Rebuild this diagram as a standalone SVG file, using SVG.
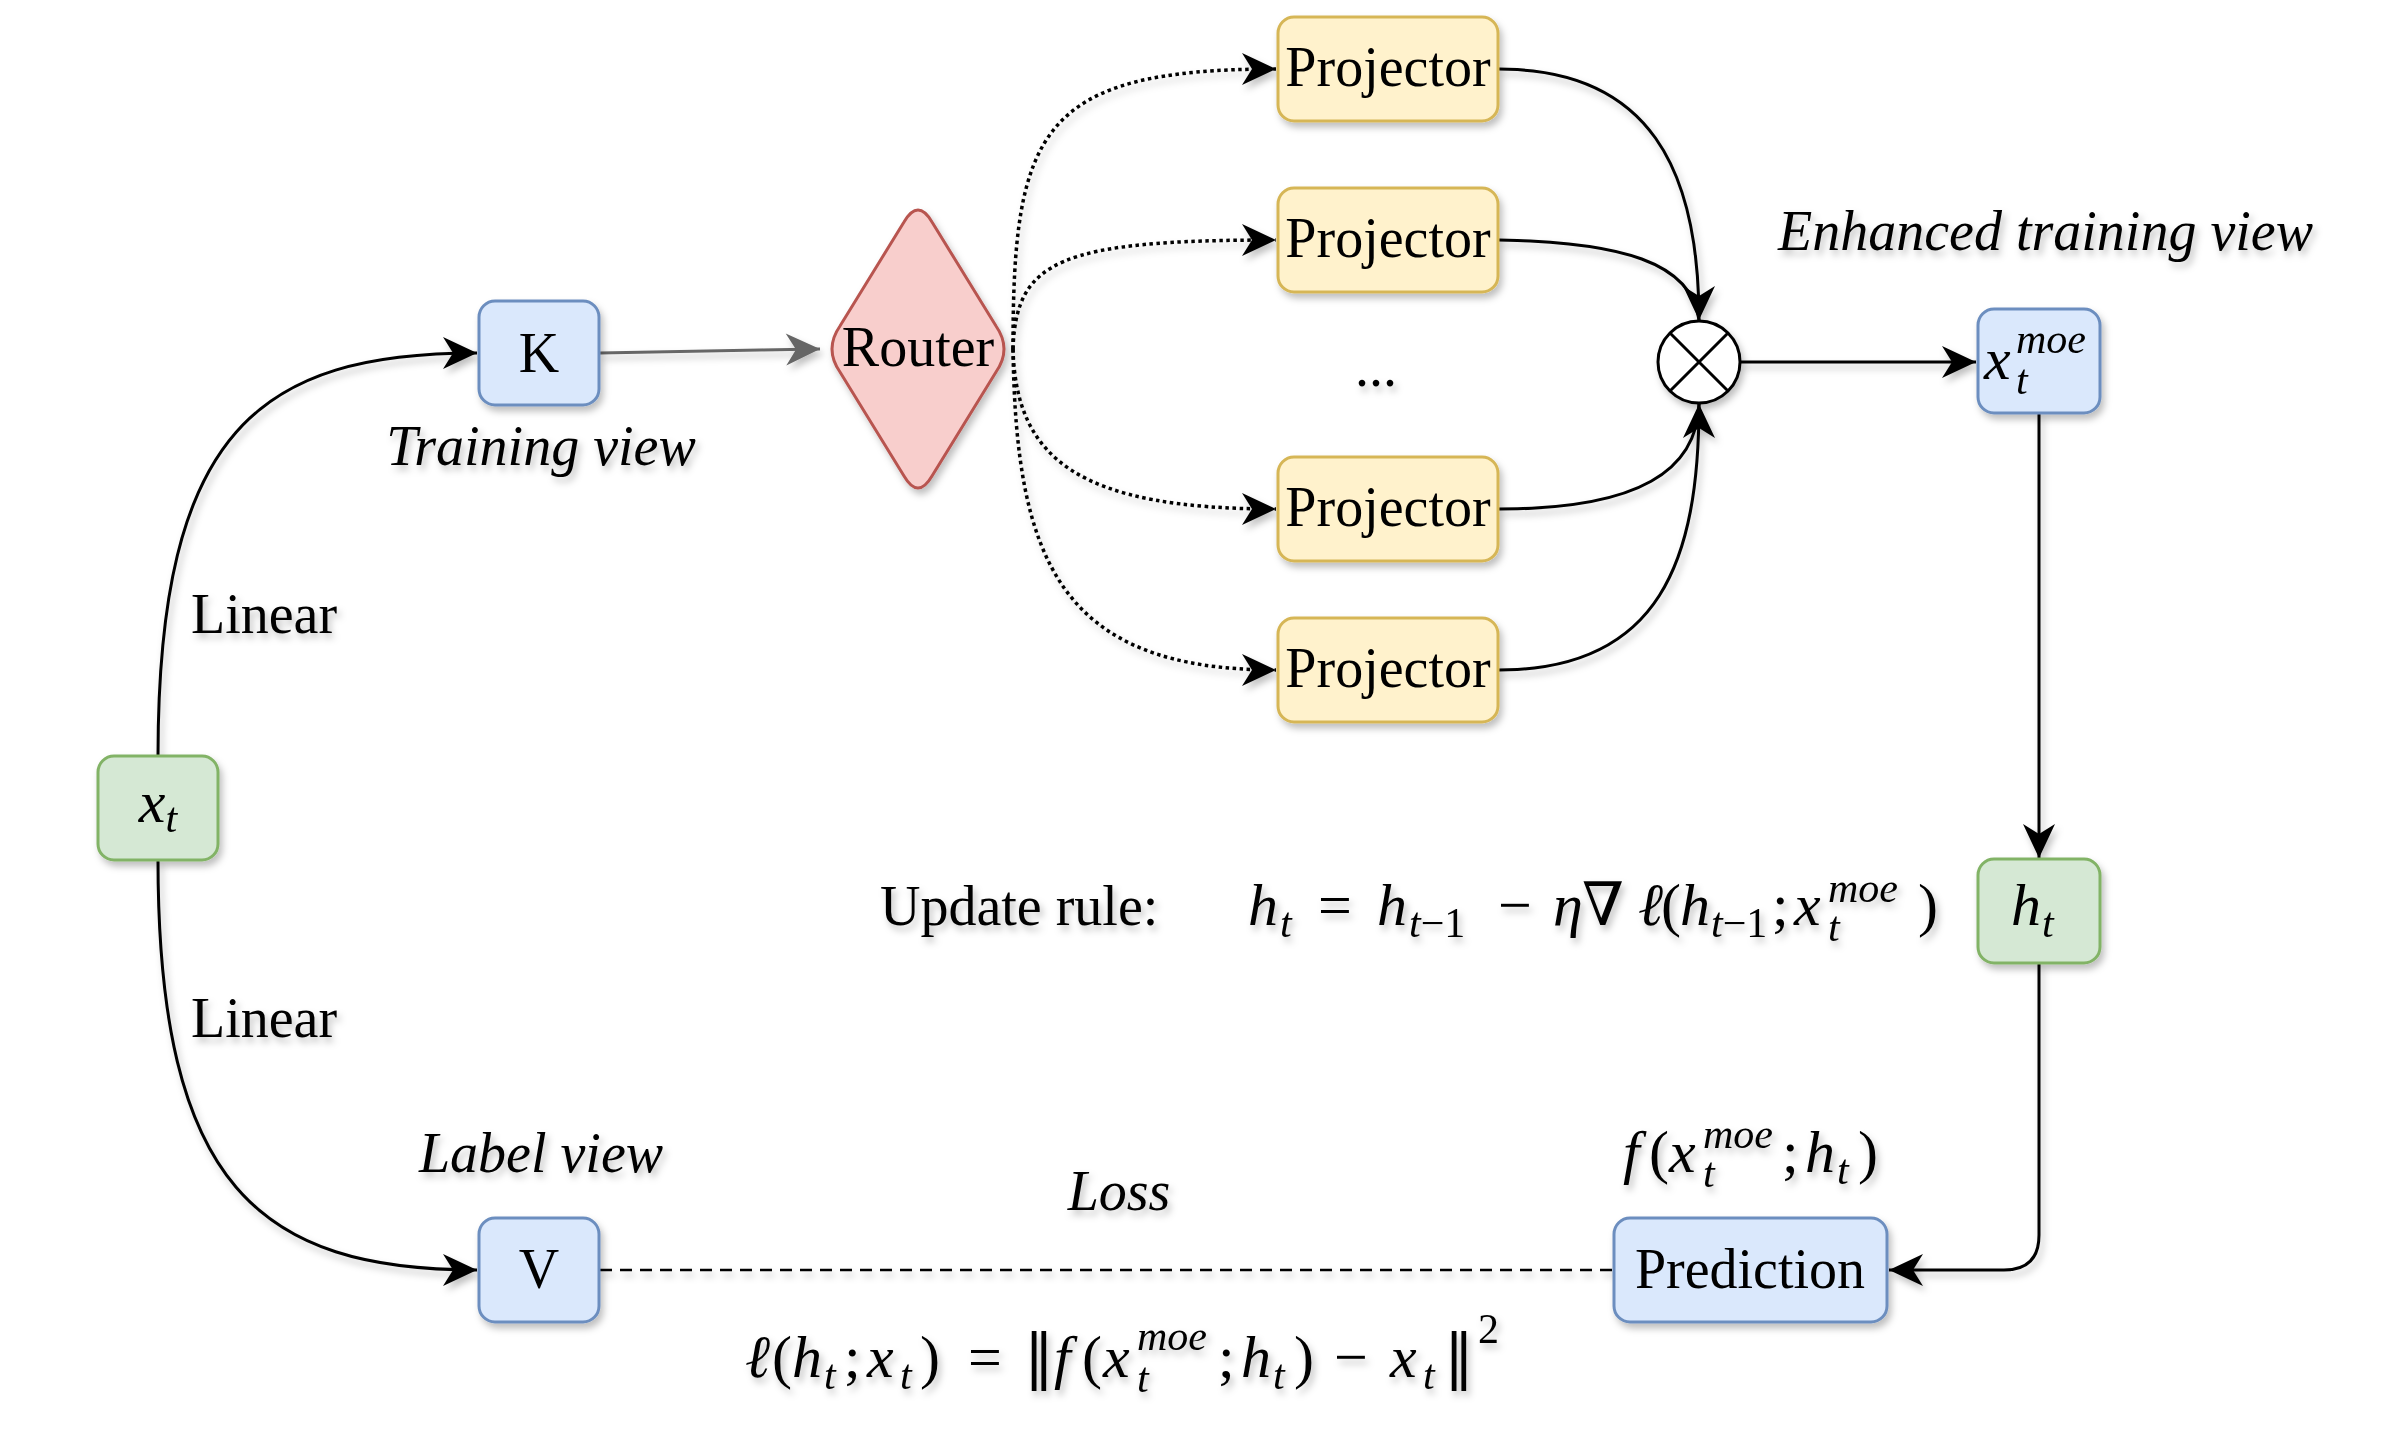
<svg xmlns="http://www.w3.org/2000/svg" width="2400" height="1448" viewBox="0 0 2400 1448">
<style>
.box{stroke-width:3}
.blue{fill:#dae8fc;stroke:#6c8ebf}
.green{fill:#d5e8d4;stroke:#82b366}
.yellow{fill:#fff2cc;stroke:#d6b656}
.red{fill:#f8cecc;stroke:#b85450}
.lbl{font-family:"Liberation Serif","DejaVu Serif","Times New Roman",serif;font-size:56px;fill:#000}
.m{font-size:60px}
.it{font-style:italic}
.s{font-size:42px}
.nrm{font-family:"DejaVu Serif",serif;font-size:60px}
.edge{fill:none;stroke:#000;stroke-width:3}
.dot{stroke-width:3.5;stroke-dasharray:3.5 3.5}
.dash{stroke-width:2.5;stroke-dasharray:12 8}
.sh{filter:url(#sh)}
</style>
<defs>
<filter id="sh" x="-20%" y="-20%" width="150%" height="150%">
<feDropShadow dx="3" dy="5" stdDeviation="3.5" flood-color="#000" flood-opacity="0.25"/>
</filter>
<marker id="arr" viewBox="-36 -18 38 36" refX="0" refY="0" markerWidth="38" markerHeight="36" markerUnits="userSpaceOnUse" orient="auto">
<path d="M0 0 L-34 -16 L-24 0 L-34 16 Z" fill="#000"/>
</marker>
<marker id="arrg" viewBox="-36 -18 38 36" refX="0" refY="0" markerWidth="38" markerHeight="36" markerUnits="userSpaceOnUse" orient="auto">
<path d="M0 0 L-34 -16 L-24 0 L-34 16 Z" fill="#666"/>
</marker>
</defs>
<rect width="2400" height="1448" fill="#fff"/>

<g id="connectors" class="sh">
<path class="edge" d="M158 756 C158 430 260 353 477 353" marker-end="url(#arr)"/>
<path class="edge" d="M158 860 C158 1186 260 1270 477 1270" marker-end="url(#arr)"/>
<path class="edge" d="M600 353 L820 349" style="stroke:#666" marker-end="url(#arrg)"/>
<path class="edge dot" d="M1013 349 C1013 130 1040 69 1276 69" marker-end="url(#arr)"/>
<path class="edge dot" d="M1013 349 C1016 260 1060 240 1276 240" marker-end="url(#arr)"/>
<path class="edge dot" d="M1013 349 C1016 460 1080 509 1276 509" marker-end="url(#arr)"/>
<path class="edge dot" d="M1013 349 C1016 560 1060 670 1276 670" marker-end="url(#arr)"/>
<path class="edge" d="M1499 69 C1650 69 1699 170 1699 320" marker-end="url(#arr)"/>
<path class="edge" d="M1499 240 C1620 242 1692 262 1699 320"/>
<path class="edge" d="M1499 509 C1640 509 1697 470 1699 404"/>
<path class="edge" d="M1499 670 C1660 670 1699 560 1699 404" marker-end="url(#arr)"/>
<path class="edge" d="M1740 362 L1976 362" marker-end="url(#arr)"/>
<path class="edge" d="M2039 413 L2039 858" marker-end="url(#arr)"/>
<path class="edge" d="M2039 963 L2039 1235 Q2039 1270 2004 1270 L1889 1270" marker-end="url(#arr)"/>
<path class="edge dash" d="M600 1270 L1614 1270"/>
</g>

<g id="node-xt" class="sh">
<rect class="box green" x="98" y="756" width="120" height="104" rx="16"/>
<text class="lbl m it" x="158" y="822" text-anchor="middle">x<tspan class="s" dy="10">t</tspan></text>
</g>

<g id="node-K" class="sh">
<rect class="box blue" x="479" y="301" width="120" height="104" rx="16"/>
<text class="lbl" x="539" y="372" text-anchor="middle">K</text>
</g>

<g id="node-V" class="sh">
<rect class="box blue" x="479" y="1218" width="120" height="104" rx="16"/>
<text class="lbl" x="539" y="1288" text-anchor="middle">V</text>
</g>

<g id="node-router" class="sh">
<path class="box red" d="M904 222 Q918 198 932 222 L996 326 Q1012 349 996 372 L932 476 Q918 500 904 476 L840 372 Q824 349 840 326 Z"/>
<text class="lbl" x="918" y="366" text-anchor="middle">Router</text>
</g>

<g id="node-proj1" class="sh">
<rect class="box yellow" x="1278" y="17" width="220" height="104" rx="16"/>
<text class="lbl" x="1388" y="86" text-anchor="middle">Projector</text>
</g>
<g id="node-proj2" class="sh">
<rect class="box yellow" x="1278" y="188" width="220" height="104" rx="16"/>
<text class="lbl" x="1388" y="257" text-anchor="middle">Projector</text>
</g>
<g id="node-proj3" class="sh">
<rect class="box yellow" x="1278" y="457" width="220" height="104" rx="16"/>
<text class="lbl" x="1388" y="526" text-anchor="middle">Projector</text>
</g>
<g id="node-proj4" class="sh">
<rect class="box yellow" x="1278" y="618" width="220" height="104" rx="16"/>
<text class="lbl" x="1388" y="687" text-anchor="middle">Projector</text>
</g>

<g id="ellipsis" class="sh">
<text class="lbl" x="1376" y="386" text-anchor="middle">...</text>
</g>

<g id="node-otimes" class="sh">
<circle cx="1699" cy="362" r="41" fill="#fff" stroke="#000" stroke-width="3"/>
<path d="M1670 333 L1728 391 M1728 333 L1670 391" stroke="#000" stroke-width="3"/>
</g>

<g id="node-xmoe" class="sh">
<rect class="box blue" x="1978" y="309" width="122" height="104" rx="16"/>
<text class="lbl m it"><tspan x="1984" y="379">x</tspan><tspan class="s" x="2016" y="394">t</tspan><tspan class="s" x="2016" y="353">moe</tspan></text>
</g>

<g id="node-ht" class="sh">
<rect class="box green" x="1978" y="859" width="122" height="104" rx="16"/>
<text class="lbl m it"><tspan x="2011" y="925">h</tspan><tspan class="s" x="2042" y="937">t</tspan></text>
</g>

<g id="node-prediction" class="sh">
<rect class="box blue" x="1614" y="1218" width="273" height="104" rx="16"/>
<text class="lbl" x="1750" y="1288" text-anchor="middle">Prediction</text>
</g>

<g id="labels" class="sh">
<text class="lbl" x="191" y="633">Linear</text>
<text class="lbl" x="191" y="1037">Linear</text>
<text class="lbl it" x="541" y="465" text-anchor="middle">Training view</text>
<text class="lbl it" x="541" y="1172" text-anchor="middle">Label view</text>
<text class="lbl it" x="1119" y="1210" text-anchor="middle">Loss</text>
<text class="lbl it" x="1778" y="250">Enhanced training view</text>

<text class="lbl"><tspan x="880" y="925">Update rule:</tspan><tspan class="m it" x="1248" y="925">h</tspan><tspan class="s it" x="1280" y="937">t</tspan><tspan class="m" x="1318" y="925">=</tspan><tspan class="m it" x="1377" y="925">h</tspan><tspan class="s" x="1409" y="937"><tspan class="it">t</tspan>−1</tspan><tspan class="m" x="1498" y="925">−</tspan><tspan class="m it" x="1553" y="925">η</tspan><tspan class="m" x="1582" y="925">∇</tspan><tspan class="m it" x="1638" y="925">ℓ</tspan><tspan class="m" x="1661" y="925">(</tspan><tspan class="m it" x="1680" y="925">h</tspan><tspan class="s" x="1711" y="937"><tspan class="it">t</tspan>−1</tspan><tspan class="m" x="1772" y="925">;</tspan><tspan class="m it" x="1794" y="925">x</tspan><tspan class="s it" x="1828" y="941">t</tspan><tspan class="s it" x="1828" y="902">moe</tspan><tspan class="m" x="1918" y="925">)</tspan></text>

<text class="lbl"><tspan class="m it" x="1623" y="1172">f</tspan><tspan class="m" x="1649" y="1172">(</tspan><tspan class="m it" x="1669" y="1172">x</tspan><tspan class="s it" x="1703" y="1187">t</tspan><tspan class="s it" x="1703" y="1148">moe</tspan><tspan class="m" x="1782" y="1172">;</tspan><tspan class="m it" x="1805" y="1172">h</tspan><tspan class="s it" x="1837" y="1184">t</tspan><tspan class="m" x="1858" y="1172">)</tspan></text>

<text class="lbl"><tspan class="m it" x="745" y="1377">ℓ</tspan><tspan class="m" x="772" y="1377">(</tspan><tspan class="m it" x="792" y="1377">h</tspan><tspan class="s it" x="824" y="1389">t</tspan><tspan class="m" x="844" y="1377">;</tspan><tspan class="m it" x="867" y="1377">x</tspan><tspan class="s it" x="900" y="1389">t</tspan><tspan class="m" x="920" y="1377">)</tspan><tspan class="m" x="968" y="1377">=</tspan><tspan class="nrm" x="1024" y="1377">‖</tspan><tspan class="m it" x="1054" y="1377">f</tspan><tspan class="m" x="1082" y="1377">(</tspan><tspan class="m it" x="1103" y="1377">x</tspan><tspan class="s it" x="1137" y="1392">t</tspan><tspan class="s it" x="1137" y="1350">moe</tspan><tspan class="m" x="1218" y="1377">;</tspan><tspan class="m it" x="1241" y="1377">h</tspan><tspan class="s it" x="1273" y="1389">t</tspan><tspan class="m" x="1294" y="1377">)</tspan><tspan class="m" x="1334" y="1377">−</tspan><tspan class="m it" x="1390" y="1377">x</tspan><tspan class="s it" x="1423" y="1389">t</tspan><tspan class="nrm" x="1444" y="1377">‖</tspan><tspan class="s" x="1478" y="1343">2</tspan></text>
</g>
</svg>
